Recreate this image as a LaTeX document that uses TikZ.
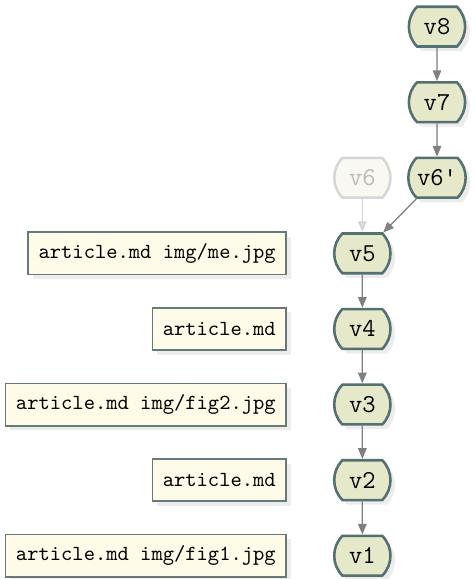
\documentclass[tikz,border=0pt]{standalone}
\usepackage{tikz}
\usetikzlibrary{shapes.misc,arrows.meta,positioning,shadows}
\definecolor{commitfill}{HTML}{E6E8CA}
\definecolor{commitline}{HTML}{557070}
\definecolor{filefill}{HTML}{FEFCE8}
\definecolor{fileline}{HTML}{667A7A}
\tikzset{
  commitshape/.style={rounded rectangle, rounded rectangle arc length=90, draw=commitline, line width=1.2pt, fill=commitfill, font=\large\ttfamily, minimum height=0.65cm, inner xsep=3.5pt},
  commit/.style={commitshape, drop shadow={opacity=0.15}},
  ghost/.style={commitshape, opacity=0.25},
  files/.style={rectangle, draw=fileline, line width=0.8pt, fill=filefill, font=\ttfamily, minimum height=0.69cm, inner xsep=0.17cm, drop shadow={opacity=0.15}},
  link/.style={-{Triangle[width=4pt,length=5pt]}, draw=black!50, fill=black!50, line width=0.6pt},
}

\begin{document}
\begin{tikzpicture}
        \useasboundingbox (0,0) rectangle (7.76,9.46);
        % history
        \node[commit] (v1) at (5.92,0.38) {v1};
        \node[commit] (v2) at (5.92,1.615) {v2};
        \node[commit] (v3) at (5.92,2.85) {v3};
        \node[commit] (v4) at (5.92,4.085) {v4};
        \node[commit] (v5) at (5.92,5.32) {v5};
        \node[ghost] (v6) at (5.92,6.555) {v6}; % dropped
        \node[commit] (v6b) at (7.14,6.555) {v6'};
        \node[commit] (v7) at (7.14,7.79) {v7};
        \node[commit] (v8) at (7.14,9.025) {v8};

        % changed files
        \node[files, left=0.75cm of v1] (f1) {article.md img/fig1.jpg};
        \node[files, left=0.75cm of v2] (f2) {article.md};
        \node[files, left=0.75cm of v3] (f3) {article.md img/fig2.jpg};
        \node[files, left=0.75cm of v4] (f4) {article.md};
        \node[files, left=0.75cm of v5] (f5) {article.md img/me.jpg};

        \draw[link] (v8) -- (v7);
        \draw[link] (v7) -- (v6b);
        \draw[link] (v6b) -- (v5);
        \draw[link, opacity=0.25] (v6) -- (v5);
        \draw[link] (v5) -- (v4);
        \draw[link] (v4) -- (v3);
        \draw[link] (v3) -- (v2);
        \draw[link] (v2) -- (v1);
    \end{tikzpicture}
\end{document}
